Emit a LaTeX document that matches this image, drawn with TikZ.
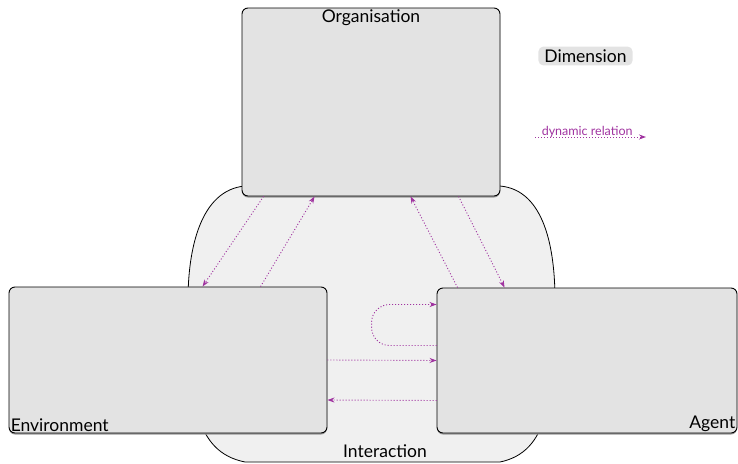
\documentclass[tikz,border=0pt]{standalone}
\usepackage{fontspec}
\setmainfont{Lato}
\usetikzlibrary{arrows.meta,shadows}
\definecolor{relcol}{HTML}{A033A0}
\definecolor{dimfill}{HTML}{E3E3E3}
\definecolor{interfill}{HTML}{F0F0F0}
\tikzset{
  dimbox/.style={draw, fill=dimfill, rounded corners=6pt, line width=0.9pt,
    drop shadow={shadow xshift=0pt, shadow yshift=-1.5pt, fill=gray!80, opacity=1}},
  rel/.style={relcol, line width=0.9pt, dash pattern=on 1pt off 2pt,
    -{Stealth[length=7pt,width=5pt]}},
}
\begin{document}
\begin{tikzpicture}[x=1pt,y=-1pt,font=\fontsize{17.5}{20}\selectfont]
  \useasboundingbox (0,0) rectangle (738,463);
  % interaction
  \draw[fill=interfill, line width=0.8pt]
    (245,186) .. controls (200,190) and (188,250) .. (188,300)
    .. controls (188,400) and (195,452) .. (245,462) -- (500,462)
    .. controls (548,452) and (555,400) .. (555,300)
    .. controls (555,250) and (545,190) .. (500,186) -- cycle;
  \node (interaction) at (385,451) {Interaction};
  % dimensions
  \node[dimbox, minimum width=258pt, minimum height=188pt] (org) at (371,102) {};
  \node[dimbox, minimum width=318pt, minimum height=146pt] (env) at (168,360) {};
  \node[dimbox, minimum width=300pt, minimum height=145pt] (agent) at (587,360.5) {};
  \node[anchor=north, inner sep=2pt] (orglabel) at (org.north) {Organisation};
  \node[anchor=south west, inner sep=2pt] (envlabel) at (env.south west) {Environment};
  \node[anchor=south east, inner sep=2pt] (agentlabel) at (agent.south east) {Agent};
  % relations
  \draw[rel] ([xshift=22pt]org.south west) to ([xshift=194pt]env.north west);
  \draw[rel] ([xshift=252pt]env.north west) to ([xshift=73pt]org.south west);
  \draw[rel] ([xshift=21pt]agent.north west) to ([xshift=169pt]org.south west);
  \draw[rel] ([xshift=217pt]org.south west) to ([xshift=68pt]agent.north west);
  \draw[rel, rounded corners=18pt] ([yshift=15pt]agent.west) -- ++(-65pt,0pt)
    -- ++(0pt,41pt) -- ([yshift=56pt]agent.west);
  \draw[rel] (env.east) to (agent.west);
  \draw[rel] ([yshift=-40pt]agent.west) to ([yshift=-40pt]env.east);
  % legend
  \node[fill=dimfill, rounded corners=5pt, inner xsep=6pt, inner ysep=3pt] (dim) at (585.5,56) {Dimension};
  \coordinate (relstart) at (535,137);
  \coordinate (relend) at (646,137);
  \draw[rel] (relstart) to node[pos=0.47, yshift=5pt, inner sep=0pt, text=relcol,
    font=\fontsize{12.5}{14}\selectfont] (reltext) {dynamic relation} (relend);
\end{tikzpicture}
\end{document}
